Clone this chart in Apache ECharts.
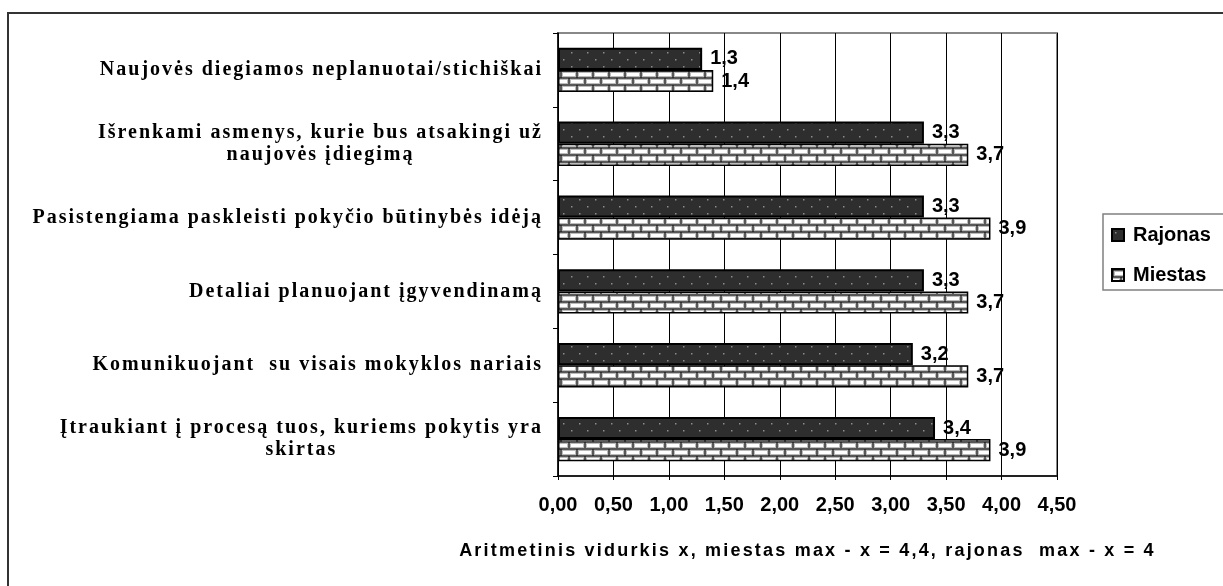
<!DOCTYPE html>
<html><head><meta charset="utf-8">
<script src="https://cdn.jsdelivr.net/npm/echarts@6/dist/echarts.min.js"></script>
<style>html,body{margin:0;padding:0;background:#fff}#c{width:1223px;height:586px}</style>
</head><body><div id="c"></div>
<script>
const categories = [
  'Naujovės diegiamos neplanuotai/stichiškai',
  'Išrenkami asmenys, kurie bus atsakingi už\nnaujovės įdiegimą',
  'Pasistengiama paskleisti pokyčio būtinybės idėją',
  'Detaliai planuojant įgyvendinamą',
  'Komunikuojant  su visais mokyklos nariais',
  'Įtraukiant į procesą tuos, kuriems pokytis yra\nskirtas'
];
const seriesNames = ['Rajonas', 'Miestas'];
const rajonas = [1.3, 3.3, 3.3, 3.3, 3.2, 3.4];
const miestas = [1.4, 3.7, 3.9, 3.7, 3.7, 3.9];
const xMin = 0, xMax = 4.5, xInterval = 0.5;
const axisTitle = 'Aritmetinis vidurkis x, miestas max - x = 4,4, rajonas  max - x = 4';

// letter spacing tweak for canvas text (style only)
(function(){
  const P = CanvasRenderingContext2D.prototype;
  function ls(ctx){
    const f = ctx.font || '';
    if (/Serif/.test(f) && !/Sans/.test(f)) return '2px';
    if (/\b18px/.test(f)) return '2.2px';
    return '0px';
  }
  const ft = P.fillText, mt = P.measureText;
  P.fillText = function(t, x, y, m){
    if ('letterSpacing' in this) this.letterSpacing = ls(this);
    return m === undefined ? ft.call(this, t, x, y) : ft.call(this, t, x, y, m);
  };
  P.measureText = function(t){
    if ('letterSpacing' in this) this.letterSpacing = ls(this);
    return mt.call(this, t);
  };
})();

function dotPattern(){
  const c = document.createElement('canvas'); c.width = 16; c.height = 14;
  const g = c.getContext('2d');
  g.fillStyle = '#2e2e2e'; g.fillRect(0, 0, 16, 14);
  g.fillStyle = '#8c8c8c';
  g.fillRect(3, 3, 1.5, 1.5); g.fillRect(11, 10, 1.5, 1.5);
  return c;
}
function brickPattern(){
  const c = document.createElement('canvas'); c.width = 16; c.height = 14;
  const g = c.getContext('2d');
  g.fillStyle = '#fff'; g.fillRect(0, 0, 16, 14);
  g.strokeStyle = '#bbb'; g.lineWidth = 1;
  g.strokeRect(2.5, 2.5, 13, 4);
  g.strokeRect(-5.5, 9.5, 13, 4); g.strokeRect(10.5, 9.5, 13, 4);
  g.strokeStyle = '#222'; g.lineWidth = 1.5;
  g.beginPath();
  g.moveTo(0, 1); g.lineTo(16, 1);
  g.moveTo(0, 8); g.lineTo(16, 8);
  g.moveTo(1, 1); g.lineTo(1, 8);
  g.moveTo(9, 8); g.lineTo(9, 14);
  g.stroke();
  return c;
}

const sansFont = 'Liberation Sans';
const serifFont = 'Liberation Serif';
const labelFmt = p => String(p.value).replace('.', ',');

const chart = echarts.init(document.getElementById('c'), null, {renderer: 'canvas'});
chart.setOption({
  backgroundColor: '#fff',
  animation: false,
  graphic: [{
    type: 'rect', silent: true, z: -10,
    shape: {x: 8, y: 13, width: 1400, height: 800},
    style: {fill: 'none', stroke: '#333', lineWidth: 2}
  }],
  grid: {left: 558, right: 166, top: 33, bottom: 110, show: true,
         borderColor: '#888', borderWidth: 2, backgroundColor: 'transparent',
         outerBoundsMode: 'none'},
  legend: {
    orient: 'vertical', left: 1103, top: 214,
    padding: [11, 40, 5, 8], itemWidth: 12, itemHeight: 12, itemGap: 20,
    icon: 'rect',
    backgroundColor: '#fff', borderColor: '#808080', borderWidth: 1.5,
    textStyle: {fontFamily: sansFont, fontWeight: 'bold', fontSize: 20, color: '#000',
                lineHeight: 20, padding: [0, 0, 0, 4]},
    data: seriesNames
  },
  xAxis: {
    type: 'value', min: xMin, max: xMax, interval: xInterval,
    name: axisTitle, nameLocation: 'middle', nameGap: 65,
    nameTextStyle: {fontFamily: sansFont, fontWeight: 'bold', fontSize: 18, color: '#000'},
    axisLine: {show: true, lineStyle: {color: '#000', width: 1.5}},
    axisTick: {show: true, length: 4, lineStyle: {color: '#000'}},
    splitLine: {show: true, lineStyle: {color: '#000', width: 1}},
    axisLabel: {formatter: v => v.toFixed(2).replace('.', ','), fontFamily: sansFont,
                fontWeight: 'bold', fontSize: 20, color: '#000', margin: 19}
  },
  yAxis: {
    type: 'category', data: categories, inverse: true,
    axisLine: {show: true, lineStyle: {color: '#000', width: 1.5}},
    axisTick: {show: true, length: 5, lineStyle: {color: '#000'}},
    splitLine: {show: false},
    axisLabel: {
      margin: 15, align: 'right',
      formatter: v => v.split('\n').map(l => '{c|' + l + '}').join('\n'),
      rich: {c: {fontFamily: serifFont, fontWeight: 'bold', fontSize: 20, color: '#000',
                 lineHeight: 22, align: 'center'}}
    }
  },
  series: [
    {type: 'bar', name: seriesNames[0], data: rajonas, barGap: '0%', barCategoryGap: '40%',
     itemStyle: {color: {image: dotPattern(), repeat: 'repeat'}, borderColor: '#000', borderWidth: 2},
     label: {show: true, position: 'right', distance: 8, formatter: labelFmt,
             fontFamily: sansFont, fontWeight: 'bold', fontSize: 20, color: '#000'}},
    {type: 'bar', name: seriesNames[1], data: miestas, barGap: '0%', barCategoryGap: '40%',
     itemStyle: {color: {image: brickPattern(), repeat: 'repeat'}, borderColor: '#000', borderWidth: 1.5},
     label: {show: true, position: 'right', distance: 8, formatter: labelFmt,
             fontFamily: sansFont, fontWeight: 'bold', fontSize: 20, color: '#000'}}
  ]
});
</script></body></html>
